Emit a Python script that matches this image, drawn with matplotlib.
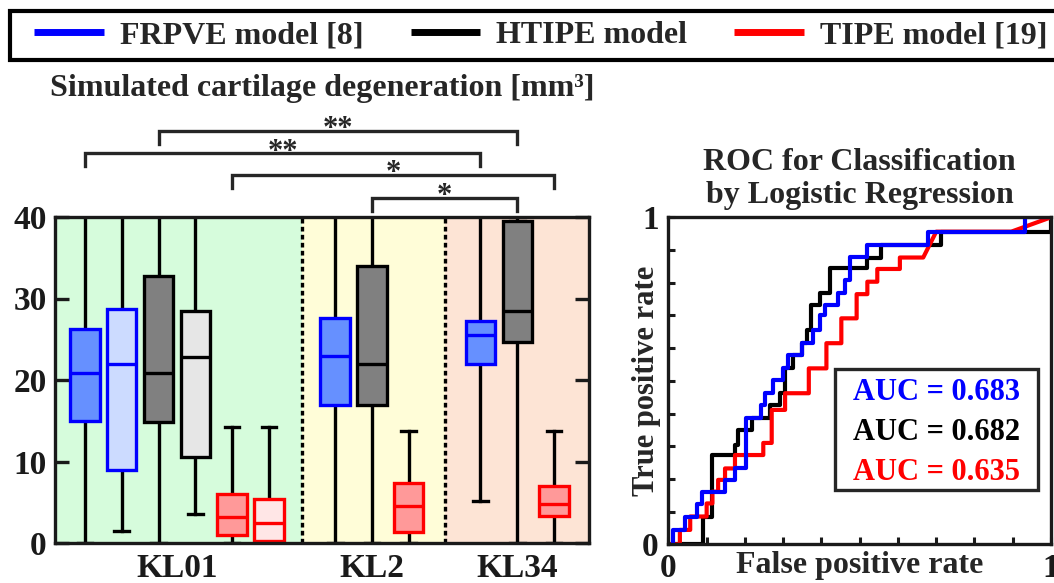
import numpy as np
import matplotlib
matplotlib.use('Agg')
import matplotlib.pyplot as plt
from matplotlib.lines import Line2D
from matplotlib.patches import Rectangle

plt.rcParams['font.family'] = ['Liberation Serif', 'DejaVu Serif']
plt.rcParams['font.weight'] = 'bold'
plt.rcParams['axes.titleweight'] = 'bold'
plt.rcParams['axes.labelweight'] = 'bold'

# ---------------- data ----------------
model_names = ['FRPVE model [8]', 'HTIPE model', 'TIPE model [19]']
model_colors = ['#0000FF', '#000000', '#FF0000']

group_labels = ['KL01', 'KL2', 'KL34']
group_label_pos = [3.5, 8.8, 12.75]

box_positions = [1, 2, 3, 4, 5, 6, 7.8, 8.8, 9.8, 11.75, 12.75, 13.75]
box_q1 = [15.0, 9.0, 14.8, 10.5, 1.0, 0.3, 16.9, 16.9, 1.4, 22.0, 24.7, 3.3]
box_med = [20.9, 22.0, 20.9, 22.8, 3.2, 2.5, 22.9, 22.0, 4.5, 25.5, 28.5, 4.8]
box_q3 = [26.3, 28.7, 32.7, 28.5, 6.0, 5.4, 27.6, 34.0, 7.4, 27.3, 39.5, 7.0]
box_whislo = [0, 1.5, 0, 3.6, 0, 0, 0, 0, 0, 5.2, 0, 0]
box_whishi = [45, 45, 45, 45, 14.2, 14.2, 45, 45, 13.7, 45, 40, 13.7]
box_face = ['#6690FF', '#CCDBFF', '#808080', '#E6E6E6', '#FF9999', '#FFE6E6',
            '#6690FF', '#808080', '#FF9999', '#6690FF', '#808080', '#FF9999']
box_edge = ['#0000FF', '#0000FF', '#000000', '#000000', '#FF0000', '#FF0000',
            '#0000FF', '#000000', '#FF0000', '#0000FF', '#000000', '#FF0000']

section_edges = [0.185, 6.9, 10.78, 14.7]
section_colors = ['#D6FCDC', '#FFFDD8', '#FDE4D5']

bracket_pairs = [(2, 10), (0, 9), (4, 11), (7, 10)]
bracket_labels = ['**', '**', '*', '*']
bracket_heights = [50.6, 47.8, 45.15, 42.3]

roc_htipe_x = [0, 0.09, 0.09, 0.113, 0.113, 0.174, 0.174, 0.182, 0.182, 0.219, 0.219,
               0.265, 0.265, 0.292, 0.292, 0.305, 0.305, 0.326, 0.326, 0.348, 0.348,
               0.361, 0.361, 0.374, 0.374, 0.396, 0.396, 0.422, 0.422, 0.518, 0.518,
               0.555, 0.555, 0.712, 0.712, 1.0, 1.0]
roc_htipe_y = [0, 0, 0.085, 0.085, 0.273, 0.273, 0.304, 0.304, 0.35, 0.35, 0.385,
               0.385, 0.426, 0.426, 0.462, 0.462, 0.538, 0.538, 0.579, 0.579, 0.615,
               0.615, 0.655, 0.655, 0.731, 0.731, 0.768, 0.768, 0.844, 0.844, 0.877,
               0.877, 0.915, 0.915, 0.956, 0.956, 1.0]

roc_frpve_x = [0.013, 0.013, 0.043, 0.043, 0.074, 0.074, 0.087, 0.087, 0.148, 0.148,
               0.174, 0.174, 0.204, 0.204, 0.243, 0.243, 0.252, 0.252, 0.274, 0.274,
               0.300, 0.300, 0.313, 0.313, 0.348, 0.348, 0.378, 0.378, 0.396, 0.396,
               0.409, 0.409, 0.444, 0.444, 0.461, 0.461, 0.474, 0.474, 0.518, 0.518,
               0.679, 0.679, 0.931, 0.931, 1.0]
roc_frpve_y = [0, 0.044, 0.044, 0.085, 0.085, 0.123, 0.123, 0.161, 0.161, 0.197,
               0.197, 0.232, 0.232, 0.385, 0.385, 0.426, 0.426, 0.462, 0.462, 0.502,
               0.502, 0.538, 0.538, 0.579, 0.579, 0.615, 0.615, 0.655, 0.655, 0.701,
               0.701, 0.731, 0.731, 0.768, 0.768, 0.808, 0.808, 0.88, 0.88, 0.915,
               0.915, 0.956, 0.956, 1.0, 1.0]

roc_tipe_x = [0, 0.03, 0.03, 0.057, 0.057, 0.1, 0.1, 0.115, 0.115, 0.13, 0.13, 0.148,
              0.148, 0.174, 0.174, 0.248, 0.248, 0.27, 0.27, 0.305, 0.305, 0.367,
              0.367, 0.413, 0.413, 0.452, 0.452, 0.492, 0.492, 0.52, 0.52, 0.546,
              0.546, 0.605, 0.605, 0.666, 0.70, 0.896, 1.0]
roc_tipe_y = [0, 0, 0.044, 0.044, 0.085, 0.085, 0.125, 0.125, 0.161, 0.161, 0.197,
              0.197, 0.232, 0.232, 0.273, 0.273, 0.31, 0.31, 0.411, 0.411, 0.462,
              0.462, 0.538, 0.538, 0.615, 0.615, 0.691, 0.691, 0.765, 0.765, 0.803,
              0.803, 0.842, 0.842, 0.877, 0.877, 0.956, 0.956, 1.0]

auc_values = [0.683, 0.682, 0.635]

# ---------------- figure ----------------
W, H = 1054, 583
fig = plt.figure(figsize=(W / 100, H / 100), dpi=100)
spine_c = '#1a1a1a'

ax1 = fig.add_axes([55 / W, 1 - 543 / H, (589 - 55) / W, (543 - 217) / H])
ax1.set_xlim(section_edges[0], section_edges[-1])
ax1.set_ylim(0, 40)
for i in range(3):
    ax1.axvspan(section_edges[i], section_edges[i + 1], color=section_colors[i], zorder=0, lw=0)
for xe in section_edges[1:-1]:
    ax1.axvline(xe, color='k', lw=2.4, ls=(0, (1.4, 1.0)), zorder=1)

stats = []
for i in range(len(box_positions)):
    stats.append(dict(q1=box_q1[i], med=box_med[i], q3=box_q3[i],
                      whislo=box_whislo[i], whishi=box_whishi[i], fliers=[]))
bp = ax1.bxp(stats, positions=box_positions, widths=0.8, patch_artist=True,
             showfliers=False, manage_ticks=False)
for i, b in enumerate(bp['boxes']):
    b.set_facecolor(box_face[i])
    b.set_edgecolor(box_edge[i])
    b.set_linewidth(2.4)
    b.set_zorder(3)
for i, m in enumerate(bp['medians']):
    m.set_color(box_edge[i])
    m.set_linewidth(2.4)
    m.set_zorder(4)
for w in bp['whiskers']:
    w.set_color('k'); w.set_linewidth(2.4); w.set_zorder(2)
for c in bp['caps']:
    c.set_color('k'); c.set_linewidth(2.4); c.set_zorder(2)

ax1.set_xticks(group_label_pos)
ax1.set_xticklabels(group_labels)
ax1.set_yticks([0, 10, 20, 30, 40])
ax1.tick_params(axis='y', direction='in', length=10, width=2.4, left=True, right=True,
                labelsize=24, pad=6, colors=spine_c)
ax1.tick_params(axis='x', length=0, labelsize=24, pad=7, colors=spine_c)
for s in ax1.spines.values():
    s.set_linewidth(2.4); s.set_color(spine_c); s.set_zorder(5)

# significance brackets
leg = 1.6
for (a, b), lab, yh in zip(bracket_pairs, bracket_labels, bracket_heights):
    xa, xb = box_positions[a], box_positions[b]
    ax1.plot([xa, xa, xb, xb], [yh - leg, yh, yh, yh - leg], color='#262626', lw=2.4,
             clip_on=False, solid_joinstyle='miter')
    ax1.annotate(lab, xy=((xa + xb) / 2, yh), xytext=(0, -9.5), textcoords='offset points',
                 ha='center', va='bottom', fontsize=22, color='#262626',
                 annotation_clip=False)

ax1c = ax1.get_position()
fig.text((ax1c.x0 + ax1c.x1) / 2, 1 - 96 / H, 'Simulated cartilage degeneration [mm³]',
         ha='center', va='baseline', fontsize=23, color='#262626')

# ROC axes
ax2 = fig.add_axes([668.4 / W, 1 - 544.3 / H, (1051 - 668.4) / W, (544.3 - 217.3) / H])
ax2.plot(roc_htipe_x, roc_htipe_y, color=model_colors[1], lw=3, zorder=2)
ax2.plot(roc_tipe_x, roc_tipe_y, color=model_colors[2], lw=3, zorder=3)
ax2.plot(roc_frpve_x, roc_frpve_y, color=model_colors[0], lw=3, zorder=4)
ax2.set_xlim(0, 1)
ax2.set_ylim(0, 1)
ticks = np.round(np.arange(0, 1.01, 0.1), 1)
labs = ['0'] + [''] * 9 + ['1']
ax2.set_xticks(ticks); ax2.set_xticklabels(labs)
ax2.set_yticks(ticks); ax2.set_yticklabels(labs)
ax2.tick_params(direction='in', length=5, width=2.2, labelsize=24, colors=spine_c)
ax2.tick_params(axis='y', pad=7)
ax2.tick_params(axis='x', pad=6)
for s in ax2.spines.values():
    s.set_linewidth(2.4); s.set_color(spine_c); s.set_zorder(5)
ax2.set_title('ROC for Classification\nby Logistic Regression', fontsize=23,
              linespacing=1.22, pad=10, color='#262626')
ax2.set_xlabel('False positive rate', fontsize=23, color='#262626')
ax2.xaxis.set_label_coords(0.5, -0.02)
ax2.set_ylabel('True positive rate', fontsize=22, color='#262626')
ax2.yaxis.set_label_coords(-0.02, 0.5)

ax2.add_patch(Rectangle((0.435, 0.166), 0.53, 0.37, transform=ax2.transAxes,
                        facecolor='white', edgecolor='#262626', lw=2.4, zorder=6))
for i, (v, c) in enumerate(zip(auc_values, model_colors)):
    ax2.text(0.70, 0.441 - 0.122 * i, f'AUC = {v:.3f}', color=c, fontsize=22,
             ha='center', va='baseline', transform=ax2.transAxes, zorder=7)

# legend (frame drawn separately so it can run past the right edge like the reference)
fig.patches.append(Rectangle((10 / W, 1 - 60 / H), (1070 - 10) / W, (60 - 10.7) / H,
                             transform=fig.transFigure, facecolor='white',
                             edgecolor='#000000', lw=3, zorder=0))
handles = [Line2D([0], [0], color=c, lw=5, solid_capstyle='butt') for c in model_colors]
lg = fig.legend(handles, model_names, loc='center left', bbox_to_anchor=(34 / W, 1 - 35.5 / H),
                ncol=3, fontsize=23, frameon=False, borderaxespad=0, borderpad=0,
                handlelength=2.19, handletextpad=0.5, columnspacing=1.47)
for t in lg.get_texts():
    t.set_color('#262626')

fig.savefig('out.png', dpi=100)
